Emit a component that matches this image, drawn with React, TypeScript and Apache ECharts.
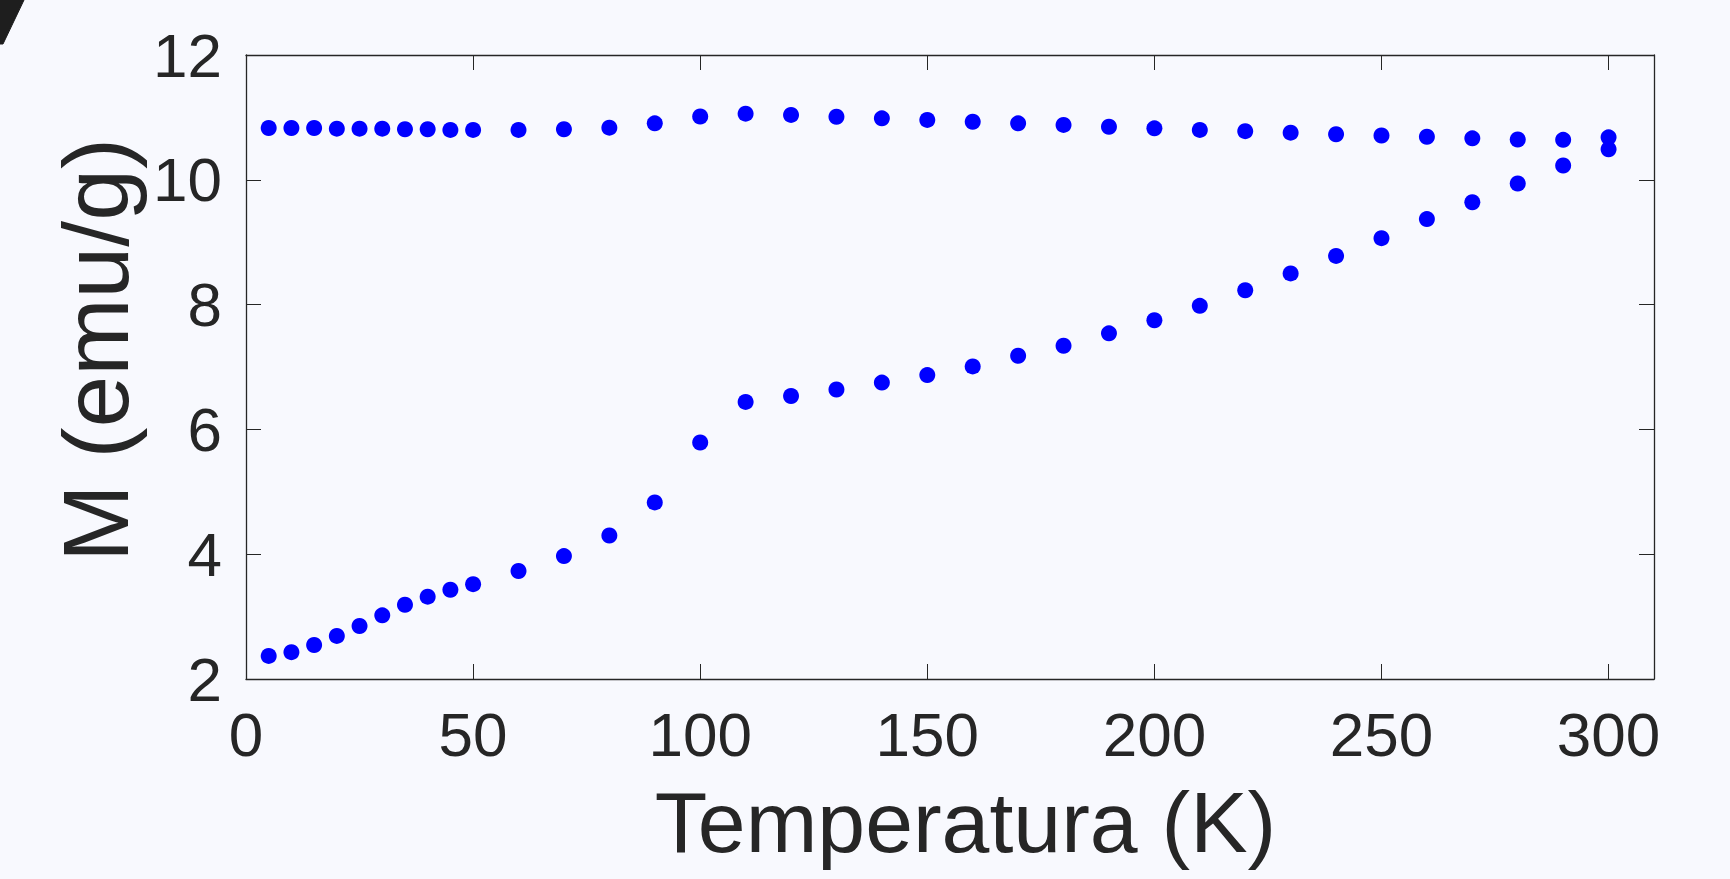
import React, { useEffect, useRef } from "react";
import * as echarts from "echarts";

// Temperature (K)
const temperatures = [
  5, 10, 15, 20, 25, 30, 35, 40, 45, 50,
  60, 70, 80, 90, 100, 110, 120, 130, 140, 150,
  160, 170, 180, 190, 200, 210, 220, 230, 240, 250,
  260, 270, 280, 290, 300,
];

// Upper branch, M (emu/g)
const magnetUpper = [
  10.83, 10.83, 10.83, 10.82, 10.82, 10.82, 10.81, 10.81, 10.8, 10.8,
  10.8, 10.81, 10.835, 10.905, 11.015, 11.06, 11.04, 11.01, 10.985, 10.96,
  10.93, 10.905, 10.88, 10.85, 10.825, 10.8, 10.78, 10.755, 10.73, 10.71,
  10.69, 10.665, 10.645, 10.64, 10.68,
];

// Lower branch, M (emu/g)
const magnetLower = [
  2.37, 2.43, 2.545, 2.69, 2.85, 3.02, 3.19, 3.32, 3.43, 3.52,
  3.73, 3.97, 4.3, 4.83, 5.79, 6.44, 6.535, 6.64, 6.75, 6.87,
  7.01, 7.18, 7.34, 7.54, 7.75, 7.98, 8.23, 8.5, 8.78, 9.065,
  9.37, 9.64, 9.94, 10.23, 10.49,
];

const xTickLabels = [0, 50, 100, 150, 200, 250, 300];
const yTickLabels = [2, 4, 6, 8, 10, 12];
const xLabel = "Temperatura (K)";
const yLabel = "M (emu/g)";

const INK = "#262626";
const BG = "#f8f9fe";
const TICK_FONT = "'Liberation Sans', sans-serif";
const NAME_FONT = "'Liberation Sans', sans-serif";

export default function App() {
  const ref = useRef<HTMLDivElement>(null);

  useEffect(() => {
    document.body.style.margin = "0";
    document.body.style.background = BG;
    if (!ref.current) return;
    const chart = echarts.init(ref.current, undefined, { renderer: "svg" });

    const axisLine = { show: true, onZero: false, lineStyle: { color: INK, width: 1.3 } };
    const tick = { show: true, inside: true, length: 15, lineStyle: { color: INK, width: 1 } };

    const upper = temperatures.map((t, i) => [t, magnetUpper[i]]);
    const lower = temperatures.map((t, i) => [t, magnetLower[i]]);

    const dotStyle = { color: "#0000ff", opacity: 1 };

    chart.setOption({
      animation: false,
      backgroundColor: BG,
      grid: {
        left: 246,
        top: 55,
        right: 76,
        bottom: 200,
        outerBoundsMode: "none",
        containLabel: false,
      },
      xAxis: [
        {
          type: "value",
          position: "bottom",
          min: 0,
          max: 310,
          interval: 50,
          splitLine: { show: false },
          axisLine,
          axisTick: tick,
          axisLabel: {
            show: true,
            color: INK,
            fontSize: 62,
            fontFamily: TICK_FONT,
            margin: 24,
            showMaxLabel: false,
            formatter: (v: number) => (xTickLabels.includes(v) ? String(v) : ""),
          },
          name: xLabel,
          nameLocation: "middle",
          nameGap: 100,
          nameTextStyle: {
            color: INK,
            fontSize: 86,
            fontFamily: NAME_FONT,
            padding: [0, 0, 0, 31],
          },
        },
        {
          type: "value",
          position: "top",
          min: 0,
          max: 310,
          interval: 50,
          splitLine: { show: false },
          axisLine,
          axisTick: tick,
          axisLabel: { show: false },
        },
      ],
      yAxis: [
        {
          type: "value",
          position: "left",
          min: 2,
          max: 12,
          interval: 2,
          splitLine: { show: false },
          axisLine,
          axisTick: tick,
          axisLabel: {
            show: true,
            color: INK,
            fontSize: 62,
            fontFamily: TICK_FONT,
            margin: 24,
            formatter: (v: number) => (yTickLabels.includes(v) ? String(v) : ""),
          },
          name: yLabel,
          nameLocation: "middle",
          nameRotate: 90,
          nameGap: 95,
          nameTextStyle: {
            color: INK,
            fontSize: 93,
            fontFamily: NAME_FONT,
            padding: [0, 0, 0, 34],
          },
        },
        {
          type: "value",
          position: "right",
          min: 2,
          max: 12,
          interval: 2,
          splitLine: { show: false },
          axisLine,
          axisTick: tick,
          axisLabel: { show: false },
        },
      ],
      graphic: [
        {
          type: "polygon",
          x: 0,
          y: 0,
          z: 100,
          shape: {
            points: [
              [0, 0],
              [24, 0],
              [3, 44],
              [0, 44],
            ],
          },
          style: { fill: "#1e1e1e", stroke: "#1e1e1e", lineWidth: 1 },
        },
      ],
      series: [
        {
          name: "upper",
          type: "scatter",
          data: upper,
          symbol: "circle",
          symbolSize: 16,
          itemStyle: dotStyle,
          xAxisIndex: 0,
          yAxisIndex: 0,
        },
        {
          name: "lower",
          type: "scatter",
          data: lower,
          symbol: "circle",
          symbolSize: 16,
          itemStyle: dotStyle,
          xAxisIndex: 0,
          yAxisIndex: 0,
        },
      ],
    });

    return () => chart.dispose();
  }, []);

  return (
    <div
      ref={ref}
      style={{ position: "absolute", left: 0, top: 0, width: 1730, height: 879 }}
    />
  );
}
